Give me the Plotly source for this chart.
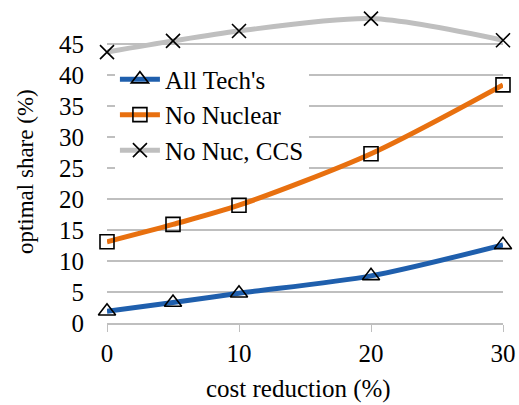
import plotly.graph_objects as go

cost_reduction = [0, 5, 10, 20, 30]
all_techs = [1.9, 3.3, 4.8, 7.6, 12.6]
no_nuclear = [13.1, 15.9, 19.0, 27.3, 38.4]
no_nuc_ccs = [43.7, 45.5, 47.1, 49.1, 45.6]

y_ticks = [0, 5, 10, 15, 20, 25, 30, 35, 40, 45]
x_ticks = [0, 10, 20, 30]

serif = "Times New Roman"


def tnr(size):
    return dict(family=serif, size=size, color="black")


fig = go.Figure()

series = [
    ("All Tech's", all_techs, "#1F5FAD", "triangle-up-open", 15),
    ("No Nuclear", no_nuclear, "#E8700F", "square-open", 14),
    ("No Nuc, CCS", no_nuc_ccs, "#BFBFBF", "x-thin-open", 14),
]
for name, vals, color, symbol, size in series:
    fig.add_trace(go.Scatter(
        x=cost_reduction, y=vals, name=name, mode="lines+markers",
        line=dict(color=color, width=5, shape="spline", smoothing=0.8),
        marker=dict(symbol=symbol, size=size, color="black",
                    line=dict(color="black", width=1.6)),
        cliponaxis=False,
    ))

fig.update_layout(
    width=519, height=405,
    margin=dict(l=107, r=16, t=13, b=82, autoexpand=False),
    paper_bgcolor="white", plot_bgcolor="white",
    font=tnr(25),
    showlegend=True,
    legend=dict(x=0.02, y=0.86, xanchor="left", yanchor="top",
                bgcolor="white", font=tnr(25), tracegroupgap=0,
                itemwidth=40),
)
fig.update_xaxes(
    range=[0, 30], tickvals=x_ticks, showgrid=False, automargin=False,
    showline=True, linecolor="#BFBFBF", linewidth=1.5,
    ticks="outside", tickcolor="#BFBFBF", ticklen=7,
    tickfont=tnr(25), zeroline=False, ticklabeloverflow="allow",
)
fig.update_yaxes(
    range=[0, 50], tickvals=y_ticks, showgrid=True, automargin=False,
    gridcolor="#BFBFBF", gridwidth=1.5, zeroline=False, showline=False,
    tickfont=tnr(25), ticklabelstandoff=22,
)
fig.add_annotation(
    text="cost reduction (%)", xref="paper", yref="paper",
    x=0.484, y=-0.212, xanchor="center", yanchor="middle",
    showarrow=False, font=tnr(25),
)
fig.add_annotation(
    text="optimal share (%)", textangle=-90, xref="paper", yref="paper",
    x=-0.207, y=0.487, xanchor="center", yanchor="middle",
    showarrow=False, font=tnr(23),
)

# drop the page's default body margin so the figure fills the window
fig.write_html("out.html", config={"displayModeBar": False},
               post_script="document.body.style.margin='0px';")
